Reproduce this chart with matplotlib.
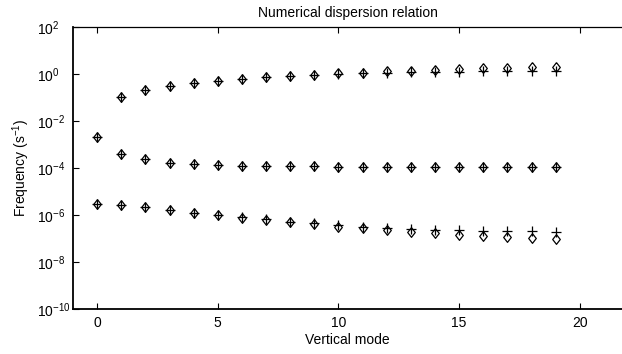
import numpy as np
import matplotlib
matplotlib.use('Agg')
import matplotlib.pyplot as plt

plt.rcParams['font.family'] = ['Liberation Sans', 'DejaVu Sans']
plt.rcParams['mathtext.fontset'] = 'custom'
plt.rcParams['mathtext.rm'] = 'Liberation Sans'
plt.rcParams['mathtext.it'] = 'Liberation Sans'

# Data (frequency in s^-1 per vertical mode)
modes_top = np.arange(1, 20)
top_exact = [0.105, 0.21, 0.32, 0.42, 0.50, 0.63, 0.72, 0.85, 0.94, 1.07,
             1.15, 1.28, 1.40, 1.50, 1.62, 1.72, 1.83, 1.95, 2.05]
top_numeric = [0.105, 0.21, 0.32, 0.42, 0.50, 0.62, 0.71, 0.83, 0.91, 1.02,
               1.07, 1.12, 1.17, 1.21, 1.25, 1.28, 1.31, 1.33, 1.35]

modes_all = np.arange(0, 20)
mid_exact = [2.0e-3, 4.1e-4, 2.3e-4, 1.7e-4, 1.45e-4, 1.32e-4, 1.25e-4, 1.2e-4,
             1.18e-4, 1.16e-4, 1.15e-4, 1.14e-4, 1.13e-4, 1.12e-4, 1.12e-4,
             1.11e-4, 1.11e-4, 1.1e-4, 1.1e-4, 1.1e-4]
mid_numeric = mid_exact

low_exact = [2.8e-6, 2.6e-6, 2.1e-6, 1.7e-6, 1.26e-6, 9.8e-7, 7.8e-7, 6.2e-7,
             4.9e-7, 4.1e-7, 3.2e-7, 2.7e-7, 2.3e-7, 1.95e-7, 1.66e-7,
             1.45e-7, 1.3e-7, 1.18e-7, 1.05e-7, 9.5e-8]
low_numeric = [2.8e-6, 2.6e-6, 2.1e-6, 1.7e-6, 1.27e-6, 1.0e-6, 8.0e-7, 6.5e-7,
               5.2e-7, 4.4e-7, 3.7e-7, 3.2e-7, 2.85e-7, 2.6e-7, 2.4e-7,
               2.25e-7, 2.15e-7, 2.05e-7, 2.0e-7, 1.95e-7]

diamond = [(0, 1), (0.78, 0), (0, -1), (-0.78, 0), (0, 1)]

fig = plt.figure(figsize=(6.22, 3.54), dpi=100)
ax = fig.add_axes([73 / 622, 1 - 309 / 354, 1 - 73 / 622, (309 - 27) / 354])

for xs, ys in [(modes_top, top_numeric), (modes_all, mid_numeric), (modes_all, low_numeric)]:
    ax.plot(xs, ys, linestyle='none', marker='+', markersize=6.8,
            markeredgewidth=0.9, color='black')
for xs, ys in [(modes_top, top_exact), (modes_all, mid_exact), (modes_all, low_exact)]:
    ax.plot(xs, ys, linestyle='none', marker=diamond, markersize=7,
            markeredgewidth=0.9, markerfacecolor='none', markeredgecolor='black')

ax.set_yscale('log')
ax.set_xlim(-1, 21.75)
ax.set_ylim(1e-10, 1e2)
ax.set_xticks([0, 5, 10, 15, 20])
ax.set_yticks([1e-10, 1e-8, 1e-6, 1e-4, 1e-2, 1e0, 1e2])
ax.set_yticklabels([r'10$^{%d}$' % e for e in [-10, -8, -6, -4, -2, 0, 2]])
ax.minorticks_off()
ax.tick_params(axis='both', direction='in', length=4, width=0.8, labelsize=10)
ax.tick_params(axis='x', top=True, pad=5)
# gnuplot style: y tick labels start at a common left edge
ax.tick_params(axis='y', pad=26)
for lab in ax.get_yticklabels():
    lab.set_horizontalalignment('left')
ax.spines['right'].set_visible(False)
for s in ['left', 'bottom']:
    ax.spines[s].set_linewidth(1.3)
ax.spines['top'].set_linewidth(0.9)

ax.set_title('Numerical dispersion relation', fontsize=10, pad=7)
ax.set_xlabel('Vertical mode', fontsize=10, labelpad=2)
ax.set_ylabel('Frequency (s$^{-1}$)', fontsize=10)
ax.yaxis.set_label_coords(-0.074, 0.5)

fig.savefig('out.png', dpi=100)
